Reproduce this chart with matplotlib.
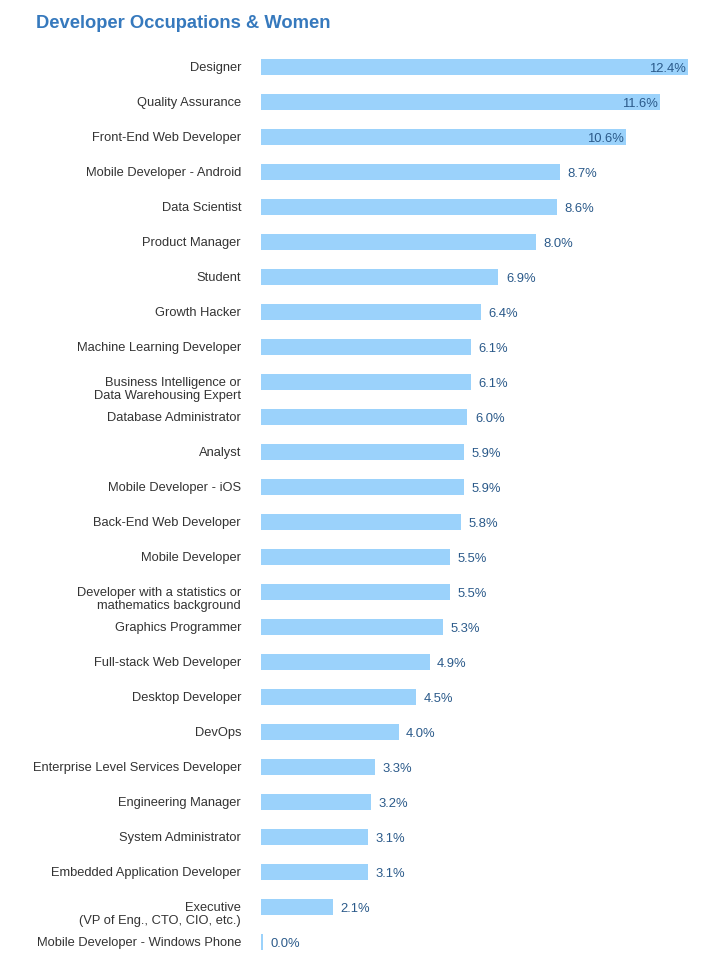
import matplotlib.pyplot as plt

# occupation labels and share of women (%), top to bottom as shown
occupations = [
    'Designer', 'Quality Assurance', 'Front-End Web Developer',
    'Mobile Developer - Android', 'Data Scientist', 'Product Manager',
    'Student', 'Growth Hacker', 'Machine Learning Developer',
    'Business Intelligence or\nData Warehousing Expert',
    'Database Administrator', 'Analyst', 'Mobile Developer - iOS',
    'Back-End Web Developer', 'Mobile Developer',
    'Developer with a statistics or\nmathematics background',
    'Graphics Programmer', 'Full-stack Web Developer', 'Desktop Developer',
    'DevOps', 'Enterprise Level Services Developer', 'Engineering Manager',
    'System Administrator', 'Embedded Application Developer',
    'Executive\n(VP of Eng., CTO, CIO, etc.)',
    'Mobile Developer - Windows Phone',
]
women_pct = [12.4, 11.6, 10.6, 8.7, 8.6, 8.0, 6.9, 6.4, 6.1, 6.1, 6.0, 5.9,
             5.9, 5.8, 5.5, 5.5, 5.3, 4.9, 4.5, 4.0, 3.3, 3.2, 3.1, 3.1,
             2.1, 0.0]
inside_count = 3  # first bars carry their label inside

plt.rcParams['font.family'] = ['Liberation Sans', 'DejaVu Sans']

fig = plt.figure(figsize=(7.13, 9.64), dpi=100)
ax = fig.add_axes([261 / 713, 1 - 959.5 / 964, 444 / 713, 910 / 964])

bar_col = '#9bd2fb'
txt_col = '#2b5a8a'

ypos = list(range(len(occupations)))
# a zero bar is still drawn as a thin sliver, like the original
widths = [max(v, 0.06) for v in women_pct]
ax.barh(ypos, widths, height=0.46, color=bar_col, edgecolor='none')

for i, (name, v) in enumerate(zip(occupations, women_pct)):
    ax.text(-0.58, i - 0.15, name, ha='right', va='top', fontsize=9.25,
            color='#333333', linespacing=1.1)
    if i < inside_count:
        ax.text(v - 0.05, i + 0.07, f'{v:.1f}%', ha='right', va='center',
                fontsize=9.4, color=txt_col)
    else:
        ax.text(widths[i] + 0.22, i + 0.07, f'{v:.1f}%', ha='left',
                va='center', fontsize=9.4, color=txt_col)

ax.set_xlim(0, 444 / 34.4)
ax.set_ylim(len(occupations) - 0.5, -0.5)
ax.axis('off')

fig.text(36 / 713, 1 - 23 / 964, 'Developer Occupations & Women',
         fontsize=13.2, fontweight='bold', color='#3679bd', ha='left',
         va='center')

fig.savefig('out.png', dpi=100)
